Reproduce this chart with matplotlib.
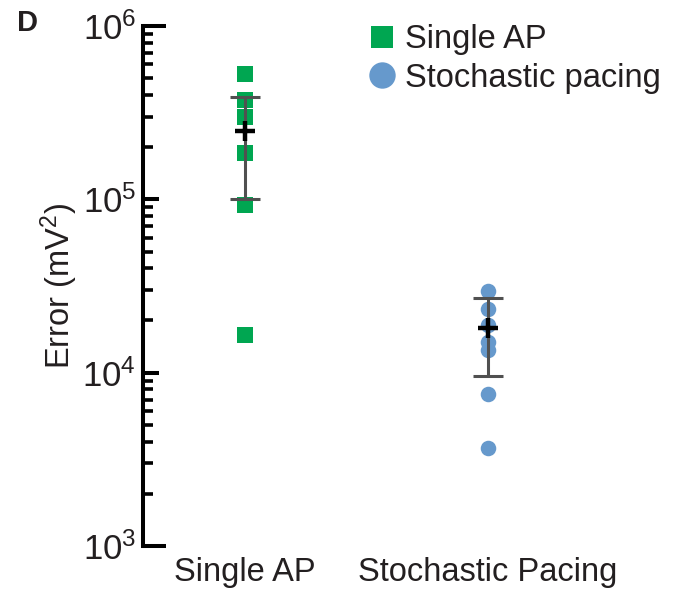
import matplotlib
matplotlib.use("Agg")
import matplotlib.pyplot as plt
from matplotlib.lines import Line2D
import numpy as np

plt.rcParams['font.family'] = ['Liberation Sans', 'DejaVu Sans']
plt.rcParams['mathtext.fontset'] = 'custom'
plt.rcParams['mathtext.rm'] = 'Liberation Sans'
plt.rcParams['mathtext.it'] = 'Liberation Sans:italic'

categories = ['Single AP', 'Stochastic Pacing']
single_ap = [528000, 374000, 298000, 185000, 92700, 16500]
stochastic = [29700, 23200, 18800, 15100, 13600, 7500, 3700]
means = [249000, 18200]
err_low = [100500, 9550]
err_high = [391000, 27000]
legend_labels = ['Single AP', 'Stochastic pacing']
ytick_vals = [1e3, 1e4, 1e5, 1e6]
ytick_labels = [r'$\mathregular{10^{3}}$', r'$\mathregular{10^{4}}$',
                r'$\mathregular{10^{5}}$', r'$\mathregular{10^{6}}$']

green = '#00a651'
blue = '#6699cc'
txt = '#231f20'

fig = plt.figure(figsize=(6.73, 5.9), dpi=100)
ax = fig.add_axes([143/673, 1-546/590, (660-143)/673, (546-26)/590])

x = np.arange(len(categories))
ax.scatter(np.full(len(single_ap), x[0]), single_ap, marker='s', s=130,
           color=green, linewidths=0, zorder=2)
ax.scatter(np.full(len(stochastic), x[1]), stochastic, marker='o', s=125,
           color=blue, linewidths=0, zorder=2)

m = np.array(means)
yerr = np.vstack([m - np.array(err_low), np.array(err_high) - m])
ax.errorbar(x, m, yerr=yerr, fmt='none', ecolor='#505050', elinewidth=2.2,
            capsize=11, capthick=2.2, zorder=3)
ax.plot(x, m, linestyle='none', marker='+', markersize=15, mew=3.2,
        color='black', zorder=4)

ax.set_yscale('log')
ax.set_ylim(1e3, 1e6)
ax.set_xlim(-0.42, 1.708)
ax.set_yticks(ytick_vals)
ax.set_yticklabels(ytick_labels)
ax.set_xticks(x)
ax.set_xticklabels(categories)

for s in ['top', 'right', 'bottom']:
    ax.spines[s].set_visible(False)
ax.spines['left'].set_linewidth(2.9)
ax.spines['left'].set_color('black')

ax.tick_params(axis='y', which='major', direction='in', length=11.5, width=2.9,
               labelsize=25, pad=5, colors='black', labelcolor=txt)
ax.tick_params(axis='y', which='minor', direction='in', length=7, width=2.6,
               colors='black')
ax.tick_params(axis='x', length=0, labelsize=23.5, pad=8, labelcolor=txt)

# longer end ticks at the axis limits
mt = ax.yaxis.get_major_ticks()
for t, v in zip(mt, ytick_vals):
    if v in (1e3, 1e6):
        t.tick1line.set_markersize(16.5)

ax.set_ylabel(r'Error (mV$^{2}$)', fontsize=23.5, color=txt, labelpad=2)

handles = [Line2D([], [], linestyle='none', marker='s', markersize=15.5,
                  color=green, mew=0),
           Line2D([], [], linestyle='none', marker='o', markersize=19,
                  color=blue, mew=0)]
fig.legend(handles, legend_labels, loc='upper left',
           bbox_to_anchor=(349/673, 1-8/590), frameon=False, fontsize=23.5,
           handlelength=1.0, handletextpad=0.22, labelspacing=0.22,
           borderpad=0, labelcolor=txt)

fig.text(17/673, 1-23/590, 'D', fontsize=21, fontweight='bold', color=txt,
         va='center', ha='left')

fig.savefig('out.png', dpi=100)
